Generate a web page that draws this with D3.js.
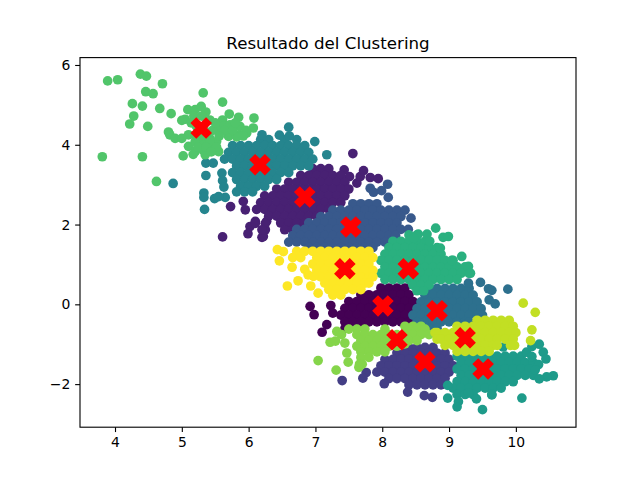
<!DOCTYPE html>
<html>
<head>
<meta charset="utf-8">
<script src="https://cdn.jsdelivr.net/npm/d3@7"></script>
<style>
  html, body { margin: 0; background: #fff; }
  text { font-family: "DejaVu Sans", sans-serif; fill: #000; }
</style>
</head>
<body>
<svg id="chart" width="640" height="480"></svg>
<script>
const chartTitle = 'Resultado del Clustering';
const xTicks = [4, 5, 6, 7, 8, 9, 10];
const yTicks = [-2, 0, 2, 4, 6];
const clusterColors = ['#440154', '#482173', '#433e85', '#38598c', '#2d708e', '#25858e',
  '#1e9b8a', '#2ab07f', '#51c56a', '#85d54a', '#c2df23', '#fde725'];
const centersX = [8.01, 6.84, 8.64, 7.53, 8.82, 6.17, 9.51, 8.39, 5.29, 8.22, 9.24, 7.44];
const centersY = [-0.04, 2.69, -1.44, 1.94, -0.16, 3.50, -1.62, 0.89, 4.42, -0.89, -0.84, 0.89];

// each row: y, then the x values read along that y
const rows0 = [
  [0.41, 7.98, 8.10, 8.22, 8.34],
  [0.24, 7.68, 7.80, 7.92, 8.04, 8.16, 8.28, 8.40],
  [0.07, 7.50, 7.62, 7.74, 7.86, 7.98, 8.10, 8.22, 8.34, 8.46],
  [-0.10, 7.44, 7.56, 7.68, 7.80, 7.92, 8.04, 8.16, 8.28, 8.40],
  [-0.27, 7.38, 7.50, 7.62, 7.74, 7.86, 7.98, 8.10, 8.22, 8.34, 8.46],
  [-0.44, 7.44, 7.56, 7.68, 7.80, 7.92, 8.04, 8.16, 8.28, 8.40],
  [-0.61, 7.44],
  [-0.05, 6.92], [-0.26, 6.98], [-0.51, 7.17], [-0.70, 7.10], [-0.03, 7.23], [-0.22, 7.26]
];
const rows1 = [
  [3.78, 7.56], [3.37, 7.43], [3.20, 7.51, 7.67], [3.35, 7.72], [3.04, 7.62], [3.18, 7.82], [3.15, 7.94],
  [3.40, 6.96, 7.08, 7.20],
  [3.23, 6.78, 6.90, 7.02, 7.14, 7.26, 7.38],
  [3.06, 6.60, 6.72, 6.84, 6.96, 7.08, 7.20, 7.32, 7.44],
  [2.89, 6.42, 6.54, 6.66, 6.78, 6.90, 7.02, 7.14, 7.26, 7.38, 7.50],
  [2.72, 6.24, 6.36, 6.48, 6.60, 6.72, 6.84, 6.96, 7.08, 7.20, 7.32, 7.44],
  [2.55, 6.18, 6.30, 6.42, 6.54, 6.66, 6.78, 6.90, 7.02, 7.14, 7.26, 7.38],
  [2.38, 6.12, 6.24, 6.36, 6.48, 6.60, 6.72, 6.84, 6.96, 7.08, 7.20],
  [2.21, 6.30, 6.42, 6.54, 6.66, 6.78, 6.90, 7.02],
  [2.04, 6.48, 6.60, 6.72, 6.84],
  [1.87, 6.54, 6.66, 6.78],
  [2.45, 5.73], [2.58, 5.92], [2.37, 5.95], [1.95, 6.02], [2.08, 6.10, 6.27], [1.77, 5.99],
  [1.69, 5.61], [1.68, 6.20], [1.87, 6.25], [2.03, 6.10, 6.25], [1.70, 6.22], [1.87, 6.20]
];
const rows2 = [
  [-1.08, 8.40, 8.52, 8.64, 8.76],
  [-1.22, 8.22, 8.34, 8.46, 8.58, 8.70, 8.82, 8.94],
  [-1.38, 8.04, 8.16, 8.28, 8.40, 8.52, 8.64, 8.76, 8.88, 9.00],
  [-1.54, 7.98, 8.10, 8.22, 8.34, 8.46, 8.58, 8.70, 8.82, 8.94, 9.06],
  [-1.70, 7.92, 8.04, 8.16, 8.28, 8.40, 8.52, 8.64, 8.76, 8.88, 9.00],
  [-1.86, 8.10, 8.22, 8.34, 8.46, 8.58, 8.70, 8.82, 8.94],
  [-2.02, 8.40, 8.52, 8.64, 8.76, 8.88],
  [-1.71, 7.76], [-1.85, 7.71], [-1.91, 7.40], [-1.99, 8.03], [-2.20, 8.38], [-2.29, 8.63], [-2.33, 8.75]
];
const rows3 = [
  [2.52, 7.56, 7.68, 7.80, 7.92],
  [2.36, 7.26, 7.38, 7.50, 7.62, 7.74, 7.86, 7.98, 8.10, 8.22, 8.34],
  [2.20, 7.08, 7.20, 7.32, 7.44, 7.56, 7.68, 7.80, 7.92, 8.04, 8.16, 8.28],
  [2.04, 6.90, 7.02, 7.14, 7.26, 7.38, 7.50, 7.62, 7.74, 7.86, 7.98, 8.10, 8.22],
  [1.88, 6.72, 6.84, 6.96, 7.08, 7.20, 7.32, 7.44, 7.56, 7.68, 7.80, 7.92, 8.04, 8.16, 8.28],
  [1.72, 6.66, 6.78, 6.90, 7.02, 7.14, 7.26, 7.38, 7.50, 7.62, 7.74, 7.86, 7.98, 8.10, 8.20],
  [1.56, 6.60, 6.72, 6.84, 6.96, 7.08, 7.20, 7.32, 7.44, 7.56, 7.68, 7.80, 7.92, 8.04],
  [1.42, 6.90, 7.02, 7.14, 7.26, 7.38, 7.50, 7.62, 7.74, 7.86],
  [3.01, 8.08], [2.91, 7.82], [2.81, 7.87], [2.85, 7.99], [2.68, 8.09], [2.16, 8.43], [1.88, 8.39]
];
const rows4 = [
  [0.40, 8.70, 8.82, 8.94, 9.06, 9.18, 9.30],
  [0.23, 8.64, 8.76, 8.88, 9.00, 9.12, 9.24, 9.36],
  [0.06, 8.58, 8.70, 8.82, 8.94, 9.06, 9.18, 9.30, 9.42],
  [-0.11, 8.52, 8.64, 8.76, 8.88, 9.00, 9.12, 9.24, 9.36, 9.48],
  [-0.27, 8.46, 8.58, 8.70, 8.82, 8.94, 9.06, 9.18, 9.30, 9.42, 9.50],
  [-0.44, 8.52, 8.64, 8.76, 8.88, 9.00, 9.12, 9.24, 9.30],
  [-0.60, 8.58, 8.70, 8.82],
  [0.55, 9.47], [0.39, 9.59], [0.35, 9.64], [0.38, 9.88], [0.11, 9.60], [0.01, 9.69], [0.53, 9.29]
];
const rows5 = [
  [4.13, 6.18, 6.30, 6.54, 6.72],
  [3.98, 5.76, 5.88, 6.00, 6.12, 6.24, 6.36, 6.48, 6.60, 6.72, 6.84],
  [3.81, 5.70, 5.82, 5.94, 6.06, 6.18, 6.30, 6.42, 6.54, 6.66, 6.78, 6.90],
  [3.64, 5.64, 5.76, 5.88, 6.00, 6.12, 6.24, 6.36, 6.48, 6.60, 6.72, 6.84, 6.96],
  [3.47, 5.82, 5.94, 6.06, 6.18, 6.30, 6.42, 6.54, 6.66, 6.78, 6.90],
  [3.30, 5.76, 5.88, 6.00, 6.12, 6.24, 6.36, 6.48, 6.60],
  [3.13, 5.82, 5.94, 6.06, 6.18, 6.30, 6.42],
  [2.96, 5.88, 6.00, 6.12, 6.24],
  [2.82, 5.82, 5.94, 6.06],
  [3.03, 4.87], [2.38, 5.34], [2.79, 5.33], [2.68, 5.33, 5.65], [2.65, 5.49], [2.70, 5.55],
  [3.23, 5.36], [3.54, 5.36, 5.47], [3.29, 5.60], [3.10, 5.61], [2.94, 5.63],
  [4.44, 6.60], [4.24, 6.46], [4.22, 6.61], [4.08, 6.99], [3.75, 7.17], [4.25, 6.20]
];
const rows6 = [
  [-1.30, 9.12, 9.24, 9.36, 9.48, 9.60, 9.72, 9.84, 9.96, 10.08],
  [-1.46, 9.18, 9.30, 9.42, 9.54, 9.66, 9.78, 9.90, 10.02, 10.14, 10.26],
  [-1.62, 9.12, 9.24, 9.36, 9.48, 9.60, 9.72, 9.84, 9.96, 10.08, 10.20],
  [-1.78, 9.18, 9.30, 9.42, 9.54, 9.66, 9.78, 9.90, 10.02, 10.14, 10.26],
  [-1.94, 9.12, 9.24, 9.36, 9.48, 9.60, 9.72, 9.84, 9.96],
  [-2.10, 9.06, 9.18, 9.30, 9.42, 9.54, 9.66, 9.78],
  [-2.26, 9.12, 9.24, 9.36, 9.64],
  [-2.44, 9.14],
  [-2.64, 9.50], [-2.35, 10.09, 8.98], [-2.57, 9.12], [-2.03, 8.98], [-1.79, 10.56], [-1.82, 10.46],
  [-1.87, 10.35], [-1.20, 10.41, 10.16], [-1.37, 10.45], [-1.00, 10.35], [-1.06, 10.24], [-1.51, 10.34],
  [-1.64, 10.29], [-1.07, 9.81], [-2.27, 9.64], [-2.37, 9.41], [-2.22, 9.29], [-1.31, 10.24]
];
const rows7 = [
  [1.74, 8.40, 8.52],
  [1.58, 8.16, 8.28, 8.40, 8.52, 8.64],
  [1.42, 8.10, 8.22, 8.34, 8.46, 8.58, 8.70, 8.82],
  [1.26, 8.04, 8.16, 8.28, 8.40, 8.52, 8.64, 8.76, 8.88],
  [1.10, 7.98, 8.10, 8.22, 8.34, 8.46, 8.58, 8.70, 8.82, 8.94, 9.06],
  [0.94, 8.04, 8.16, 8.28, 8.40, 8.52, 8.64, 8.76, 8.88, 9.00, 9.12, 9.24],
  [0.78, 7.98, 8.10, 8.22, 8.34, 8.46, 8.58, 8.70, 8.82, 8.94, 9.06, 9.18, 9.30],
  [0.62, 8.04, 8.16, 8.28, 8.40, 8.52, 8.64, 8.76, 8.88, 9.00, 9.12],
  [0.48, 8.46, 8.58, 8.70],
  [0.34, 8.52, 8.62],
  [1.91, 8.80], [1.68, 8.91], [1.70, 8.99], [1.41, 8.87], [1.20, 9.19], [1.10, 9.04], [0.95, 9.29],
  [0.78, 9.32], [1.76, 8.54, 8.67], [1.58, 8.71], [1.66, 8.47]
];
const rows8 = [
  [5.60, 3.89], [5.63, 4.04], [5.77, 4.38], [5.72, 4.47], [5.53, 4.71], [5.33, 4.46], [5.28, 4.57],
  [5.30, 5.32], [5.07, 5.61], [5.03, 4.26], [4.97, 4.41], [4.91, 4.67], [4.78, 4.84], [4.72, 4.28],
  [4.52, 4.22], [4.46, 4.49], [3.70, 3.81, 4.41], [3.08, 4.62],
  [4.88, 5.09, 5.20], [4.96, 5.29], [4.82, 5.36], [4.64, 5.05], [4.61, 5.00], [4.62, 5.42, 5.61],
  [4.32, 4.80], [4.25, 4.82, 5.10, 5.85], [4.16, 4.90, 5.00, 5.42], [4.46, 5.22, 5.62, 5.87],
  [4.77, 5.71], [4.69, 5.85], [4.67, 6.08], [4.37, 5.52], [4.50, 5.72], [4.42, 6.07], [4.29, 5.97],
  [4.21, 5.70], [4.08, 5.52, 5.32], [3.96, 5.10], [3.83, 5.20, 5.55], [3.72, 5.02], [3.76, 5.17],
  [3.87, 5.32], [3.91, 5.45], [3.75, 5.35], [4.20, 5.82],
  [4.36, 5.34, 5.46, 5.64, 5.76, 5.96], [4.22, 5.22, 5.34, 5.56, 5.92], [4.08, 5.20, 5.42],
  [3.94, 5.24, 5.36, 5.52], [3.82, 5.44], [4.55, 5.14, 5.50, 5.80], [4.72, 5.18, 5.30]
];
const rows9 = [
  [-0.55, 8.34, 8.46, 8.58],
  [-0.62, 7.50, 7.62, 7.74, 8.04, 8.40, 8.52, 8.64],
  [-0.76, 7.62, 7.74, 7.86, 7.98, 8.10, 8.22, 8.34, 8.46, 8.58, 8.70],
  [-0.91, 7.68, 7.80, 7.92, 8.04, 8.16, 8.28, 8.40, 8.52],
  [-1.05, 7.62, 7.74, 7.86, 7.98, 8.10, 8.22],
  [-0.99, 8.34],
  [-1.19, 7.68, 7.80, 7.92, 8.04],
  [-1.33, 7.68, 7.80],
  [-1.50, 7.66, 7.70],
  [-1.41, 7.04], [-1.65, 7.31], [-1.45, 7.49], [-0.95, 7.22], [-0.97, 7.44], [-1.22, 7.47],
  [-0.68, 7.32], [-0.76, 7.39], [-1.58, 7.65], [-0.92, 7.30]
];
const rows10 = [
  [-0.40, 9.42, 9.54, 9.66, 9.78, 9.90],
  [-0.55, 9.12, 9.24, 9.36, 9.48, 9.60, 9.72, 9.84, 9.96],
  [-0.71, 8.79, 8.82, 8.94, 9.06, 9.18, 9.30, 9.42, 9.54, 9.66, 9.78, 9.90, 10.00],
  [-0.87, 8.82, 8.88, 9.00, 9.12, 9.24, 9.36, 9.48, 9.60, 9.72, 9.84, 9.96],
  [-1.03, 8.94, 9.06, 9.18, 9.30, 9.42, 9.54, 9.66, 9.72, 9.92, 9.98],
  [-1.18, 9.12, 9.24, 9.36, 9.48, 9.60],
  [0.03, 10.11], [-0.20, 10.29], [-0.64, 10.24], [-0.91, 10.22]
];
const rows11 = [
  [1.33, 6.72, 6.84, 6.96, 7.08, 7.20, 7.32, 7.44, 7.56, 7.68, 7.80],
  [1.17, 6.66, 6.78, 7.02, 7.14, 7.26, 7.38, 7.50, 7.62, 7.74, 7.86],
  [1.01, 6.96, 7.08, 7.20, 7.32, 7.44, 7.56, 7.68, 7.80],
  [0.85, 7.02, 7.14, 7.26, 7.38, 7.50, 7.62, 7.74, 7.86],
  [0.69, 7.08, 7.20, 7.32, 7.44, 7.56, 7.68, 7.80, 7.86],
  [0.53, 7.14, 7.26, 7.38, 7.50, 7.62, 7.74, 7.80],
  [0.37, 7.20, 7.32, 7.44, 7.56, 7.68],
  [0.23, 7.26, 7.38],
  [1.37, 6.43], [1.32, 6.52], [1.09, 6.46], [0.93, 6.65], [0.88, 6.84], [0.74, 6.89], [0.70, 6.97],
  [0.59, 6.74], [0.46, 6.58, 6.93], [0.28, 7.04]
];
const allRows = [rows0, rows1, rows2, rows3, rows4, rows5, rows6, rows7, rows8, rows9, rows10, rows11];

const svg = d3.select('#chart');
const plotLeft = 80, plotRight = 576, plotTop = 57.6, plotBottom = 427.2;

const x = d3.scaleLinear().domain([3.476, 10.9]).range([plotLeft, plotRight]);
const y = d3.scaleLinear().domain([-3.08, 6.185]).range([plotBottom, plotTop]);

// flatten rows into [x, y] points, keep the cluster index for the colour
const points = allRows.flatMap((rows, c) =>
  rows.flatMap(([py, ...pxs]) => pxs.map(px => ({ px, py, c })))
);

svg.append('g').selectAll('circle')
  .data(points)
  .join('circle')
  .attr('cx', d => x(d.px))
  .attr('cy', d => y(d.py))
  .attr('r', 4.85)
  .attr('fill', d => clusterColors[d.c]);

// matplotlib filled X marker
const xMarker = {
  draw(ctx, size) {
    const u = Math.sqrt(size) / 4;
    const v = [[-1, -2], [0, -1], [1, -2], [2, -1], [1, 0], [2, 1], [1, 2], [0, 1], [-1, 2], [-2, 1], [-1, 0], [-2, -1]];
    v.forEach(([a, b], i) => i ? ctx.lineTo(a * u, b * u) : ctx.moveTo(a * u, b * u));
    ctx.closePath();
  }
};

svg.append('g').selectAll('path')
  .data(centersX.map((cx, i) => [cx, centersY[i]]))
  .join('path')
  .attr('d', d3.symbol().type(xMarker).size(384))
  .attr('transform', d => `translate(${x(d[0])},${y(d[1])})`)
  .attr('fill', 'red')
  .attr('stroke', 'red')
  .attr('stroke-width', 1.39);

const xAxis = d3.axisBottom(x).tickValues(xTicks).tickSize(4.86).tickPadding(4.8);
const yAxis = d3.axisLeft(y).tickValues(yTicks).tickSize(4.86).tickPadding(4.8)
  .tickFormat(d => String(d).replace('-', '\u2212'));

const gx = svg.append('g').attr('transform', `translate(0,${plotBottom})`).call(xAxis);
const gy = svg.append('g').attr('transform', `translate(${plotLeft},0)`).call(yAxis);
gx.select('.domain').remove();
gy.select('.domain').remove();
svg.selectAll('.tick line').attr('stroke', '#000').attr('stroke-width', 1.11);
svg.selectAll('.tick text').attr('font-size', 13.9).attr('font-family', '"DejaVu Sans"');

svg.append('rect')
  .attr('x', plotLeft).attr('y', plotTop)
  .attr('width', plotRight - plotLeft).attr('height', plotBottom - plotTop)
  .attr('fill', 'none').attr('stroke', '#000').attr('stroke-width', 1.11);

svg.append('text')
  .attr('x', (plotLeft + plotRight) / 2)
  .attr('y', 49)
  .attr('text-anchor', 'middle')
  .attr('font-size', 16.67)
  .text(chartTitle);
</script>
</body>
</html>
